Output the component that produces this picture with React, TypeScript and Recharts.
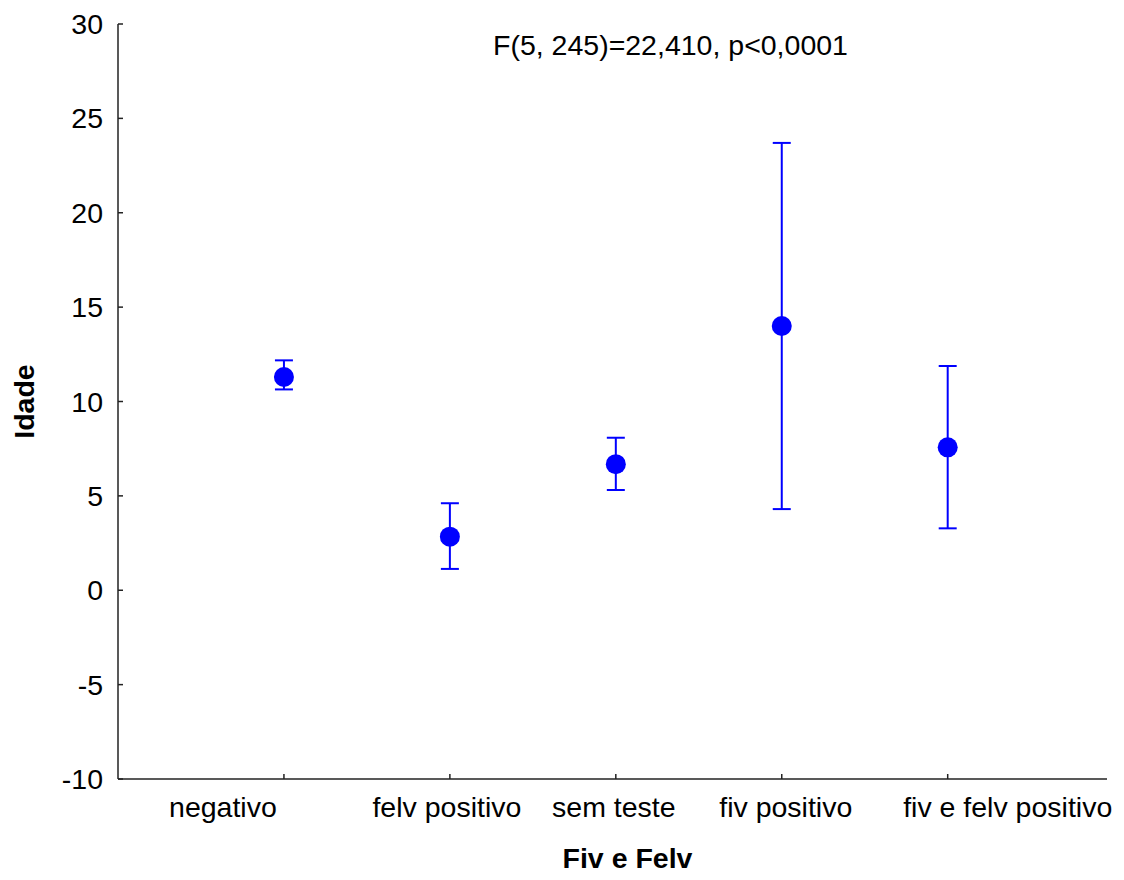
import React from "react";
import { ScatterChart, Scatter, XAxis, YAxis, ErrorBar } from "recharts";

// group names and the means with their interval ends
const categories = ["negativo", "felv positivo", "sem teste", "fiv positivo", "fiv e felv positivo"];
const means = [11.3, 2.84, 6.68, 14.0, 7.57];
const lower = [10.64, 1.13, 5.31, 4.3, 3.28];
const upper = [12.18, 4.61, 8.08, 23.7, 11.88];
const yTicks = [-10, -5, 0, 5, 10, 15, 20, 25, 30];
const xTicks = [1, 2, 3, 4, 5];

const FONT = '"Liberation Sans", Arial, sans-serif';
const FS = 28.5;
const BLUE = "#0000ff";
const AXIS = "#222";

const data = categories.map((name, i) => ({
  x: i + 1,
  y: means[i],
  name,
  err: [means[i] - lower[i], upper[i] - means[i]],
}));

// Statistica nudged the outer labels sideways
const labelShift = [-61, -3, -2, 4, 60];

const YTick = (props: any) => {
  const { x, y, payload } = props;
  return (
    <text x={x} y={y} dy="0.355em" textAnchor="end" fontSize={FS} fontFamily={FONT} fill="#000">
      {payload.value}
    </text>
  );
};

const XTick = (props: any) => {
  const { x, y, payload } = props;
  const idx = xTicks.indexOf(payload.value);
  return (
    <text
      x={x + (labelShift[idx] || 0)}
      y={y}
      dy="0.71em"
      textAnchor="middle"
      fontSize={FS}
      fontFamily={FONT}
      fill="#000"
    >
      {categories[idx]}
    </text>
  );
};

const MeanDot = (props: any) => {
  const { cx, cy } = props;
  return <circle cx={cx} cy={cy} r={10} fill={BLUE} />;
};

export default function App() {
  return (
    <div style={{ position: "relative", width: 1124, height: 880, background: "#fff" }}>
      <style>{"body{margin:0}"}</style>
      <ScatterChart width={1124} height={880} margin={{ top: 24, right: 17, bottom: 0, left: 0 }}>
        {/* negative tickSize puts the tick marks inside the plot, like the original */}
        <XAxis
          type="number"
          dataKey="x"
          domain={[0, 5.96]}
          ticks={xTicks}
          interval={0}
          height={101}
          tickSize={-5}
          tickMargin={23}
          tickLine={{ stroke: AXIS, strokeWidth: 1.5 }}
          tick={<XTick />}
          axisLine={{ stroke: AXIS, strokeWidth: 1.5 }}
          allowDataOverflow
          label={{
            value: "Fiv e Felv",
            position: "insideBottom",
            offset: 12,
            dx: 15,
            style: { fontSize: FS, fontWeight: "bold", fontFamily: FONT, fill: "#000" },
          }}
        />
        <YAxis
          type="number"
          dataKey="y"
          domain={[-10, 30]}
          ticks={yTicks}
          interval={0}
          width={118}
          tickSize={-5}
          tickMargin={20}
          tickLine={{ stroke: AXIS, strokeWidth: 1.5 }}
          tick={<YTick />}
          axisLine={{ stroke: AXIS, strokeWidth: 1.5 }}
          allowDataOverflow
          label={{
            value: "Idade",
            angle: -90,
            position: "insideLeft",
            offset: 24,
            style: { textAnchor: "middle", fontSize: FS, fontWeight: "bold", fontFamily: FONT, fill: "#000" },
          }}
        />
        <Scatter data={data} dataKey="y" fill={BLUE} shape={<MeanDot />} isAnimationActive={false}>
          <ErrorBar dataKey="err" direction="y" width={9} stroke={BLUE} strokeWidth={2} isAnimationActive={false} />
        </Scatter>
      </ScatterChart>
      <svg width={1124} height={80} style={{ position: "absolute", left: 0, top: 0, pointerEvents: "none" }}>
        <text x={493} y={55} fontSize={FS} fontFamily={FONT} fill="#000">
          F(5, 245)=22,410, p&lt;0,0001
        </text>
      </svg>
    </div>
  );
}
